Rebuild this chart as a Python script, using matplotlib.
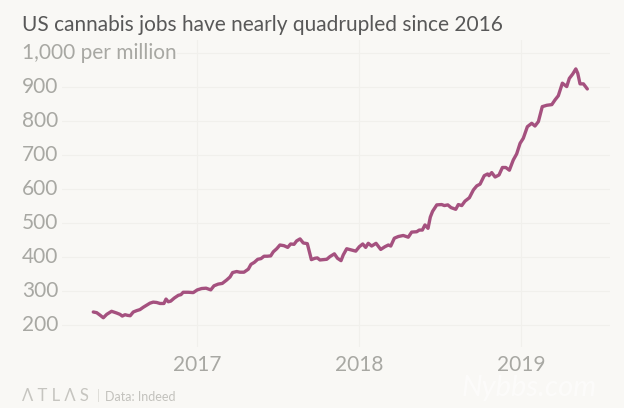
import matplotlib
matplotlib.use("Agg")
import matplotlib.pyplot as plt
from matplotlib.transforms import blended_transform_factory as btf

TITLE = "US cannabis jobs have nearly quadrupled since 2016"
years = [2016.360,.381,.401,.422,.443,.473,.504,.525,.539,.556,.572,.588,.607,.628,.648,.669,.690,.710,.730,.751,.772,.796,.809,.823,.838,.860,.885,.901,.915,.946,.977]
years = [years[0]] + [2016 + v for v in years[1:]]
y17 = [.002,.029,.056,.085,.105,.131,.156,.183,.204,.220,.245,.265,.290,.317,.333,.354,.375,.395,.414,.434,.455,.471,.492,.512,.537,.560,.578,.599,.615,.636,.656,.681,.693,.706,.728,.743,.759,.801,.821,.848,.867,.889,.903,.924,.955,.980]
y18 = [.002,.023,.041,.057,.078,.105,.134,.160,.181,.196,.218,.243,.273,.304,.325,.356,.372,.391,.407,.426,.440,.454,.480,.510,.527,.548,.568,.597,.613,.634,.654,.681,.706,.727,.747,.773,.794,.802,.819,.840,.864,.885,.906,.928,.952,.973,.994]
y19 = [.014,.039,.066,.086,.107,.131,.159,.190,.210,.230,.255,.282,.298,.319,.338,.350,.364,.385,.409]
dates = years + [2017+v for v in y17] + [2018+v for v in y18] + [2019+v for v in y19]

jobs = [238,236,229,221,231,240,235,231,226,230,228,227,238,242,245,252,258,264,267,266,263,263,276,268,270,279,287,289,296,296,295,
        303,307,308,303,315,320,322,332,341,354,357,355,355,364,378,384,393,395,402,402,403,415,424,435,433,428,438,437,447,453,441,439,416,392,396,397,391,393,401,409,396,389,406,424,420,417,
        430,438,428,440,432,440,422,430,435,432,455,460,463,458,473,474,479,479,494,484,517,534,553,554,551,553,545,540,554,551,564,574,597,609,614,639,644,639,648,635,641,663,663,655,685,703,734,
        749,783,793,785,798,842,846,848,862,874,911,901,925,938,953,940,909,909,894]
n = min(len(dates), len(jobs))
dates, jobs = dates[:n], jobs[:n]

y_ticks = [200,300,400,500,600,700,800,900,1000]
y_labels = ["200","300","400","500","600","700","800","900","1,000 per million"]
x_ticks = [2017,2018,2019]
x_labels = ["2017","2018","2019"]

BG="#f9f8f5"; GRID="#f1f0ec"; LBL="#a8a8a3"; LINE="#a5517f"; TTL="#585858"
plt.rcParams['font.family']=['Lato','DejaVu Sans']
W,H=624,408
fig=plt.figure(figsize=(W/100,H/100),dpi=100,facecolor=BG)
ax=fig.add_axes([62/W,1-347/H,548/W,307/H],facecolor=BG)
ax.set_xlim(2016.167,2019.549); ax.set_ylim(135,1038)
for s in ax.spines.values(): s.set_visible(False)
ax.set_xticks(x_ticks); ax.set_yticks(y_ticks)
ax.set_xticklabels(x_labels,fontsize=15,color=LBL)
ax.set_yticklabels([])
ax.tick_params(length=0,pad=6)
ax.grid(True,color=GRID,lw=0.8); ax.set_axisbelow(True)
ax.plot(dates,jobs,color=LINE,lw=2.4,solid_joinstyle='round',solid_capstyle='round')
tr=btf(fig.transFigure,ax.transData)
for v,l in zip(y_ticks,y_labels):
    ax.text(22/W,v,l,transform=tr,fontsize=15,color=LBL,va='center',ha='left',clip_on=False,
            bbox=dict(fc=BG,ec='none',pad=0.5))
fig.text(22/W,1-25/H,TITLE,fontsize=15,color=TTL,va='center',ha='left')
fig.text(22/W,1-396/H,"Λ T L Λ S",fontsize=12,color="#c6c5c0",va='center',ha='left')
fig.text(97/W,1-396/H,"|",fontsize=9,color="#dcdbd6",va='center',ha='left')
fig.text(105/W,1-397/H,"Data: Indeed",fontsize=9,color="#c3c2bd",va='center',ha='left')
fig.text(462/W,1-388/H,"Nybbs.com",fontsize=21,color="#ffffff",va='center',ha='left',style='italic',alpha=0.55)
fig.savefig("out.png",dpi=100,facecolor=BG)
